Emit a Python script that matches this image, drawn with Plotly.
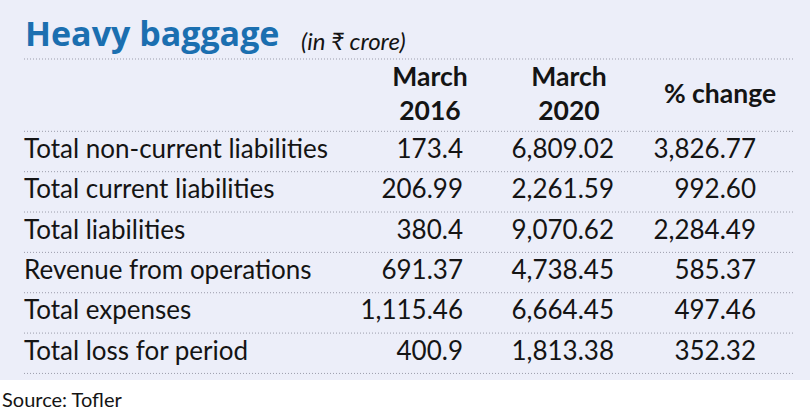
"""Heavy baggage: liabilities and losses table, March 2016 vs March 2020."""

import plotly.graph_objects as go

# ---- data ----
row_labels = [
    "Total non-current liabilities",
    "Total current liabilities",
    "Total liabilities",
    "Revenue from operations",
    "Total expenses",
    "Total loss for period",
]
march_2016 = ["173.4", "206.99", "380.4", "691.37", "1,115.46", "400.9"]
march_2020 = ["6,809.02", "2,261.59", "9,070.62", "4,738.45", "6,664.45", "1,813.38"]
pct_change = ["3,826.77", "992.60", "2,284.49", "585.37", "497.46", "352.32"]
col_headers = ["March<br>2016", "March<br>2020", "% change"]

title = "Heavy baggage"
subtitle = "(in ₹ crore)"
source = "Source: Tofler"

# ---- layout constants (pixels) ----
W, H = 810, 414
ROW0_PX = 151.5   # centre of first row
ROW_PX = 40.35    # row pitch
HEADER_LINE_PX = 59
LINE_X0, LINE_X1 = 24, 794
LABEL_X = 24
VALUE_RIGHT = [463, 614, 756]
HEADER_CX = [430, 569, 720]

BG = "#eceef9"
INK = "#141414"
BLUE = "#1b6fb0"
DOT = "#9b9dab"
BODY = "Lato, Roboto, sans-serif"
TITLE_FONT = "Open Sans, Lato, sans-serif"


def px_to_row(px):
    return (px - ROW0_PX) / ROW_PX


rows = list(range(len(row_labels)))
fig = go.Figure()

fig.add_trace(go.Scatter(
    x=[LABEL_X] * len(rows), y=rows, text=row_labels,
    mode="text", textposition="middle right",
    textfont=dict(family=BODY, size=26, color=INK),
    hoverinfo="skip",
))
for xr, col in zip(VALUE_RIGHT, [march_2016, march_2020, pct_change]):
    fig.add_trace(go.Scatter(
        x=[xr] * len(rows), y=rows, text=col,
        mode="text", textposition="middle left",
        textfont=dict(family=BODY, size=26, color=INK),
        hoverinfo="skip",
    ))

header_y = px_to_row((HEADER_LINE_PX + ROW0_PX - ROW_PX / 2) / 2 + 1)
fig.add_trace(go.Scatter(
    x=HEADER_CX, y=[header_y] * 3,
    text=[f"<b>{h}</b>" for h in col_headers],
    mode="text", textposition="middle center",
    textfont=dict(family=BODY, size=26.5, color=INK),
    hoverinfo="skip",
))

# panel background
fig.add_shape(type="rect", xref="paper", yref="y", x0=0, x1=1,
              y0=px_to_row(-5), y1=px_to_row(380),
              fillcolor=BG, line_width=0, layer="below")

# dotted separators
sep_y = [px_to_row(HEADER_LINE_PX)] + [r - 0.5 for r in rows] + [rows[-1] + 0.5]
for yy in sep_y:
    fig.add_shape(type="line", xref="x", yref="y",
                  x0=LINE_X0, x1=LINE_X1, y0=yy, y1=yy,
                  line=dict(color=DOT, width=1, dash="1px,2px"))

fig.add_annotation(
    text=f"<b>{title}</b>", xref="x", yref="y",
    x=LABEL_X - 1, y=px_to_row(33), xanchor="left", yanchor="middle",
    showarrow=False, font=dict(family=TITLE_FONT, size=34, color=BLUE),
)
fig.add_annotation(
    text=f"<i>{subtitle}</i>", xref="x", yref="y",
    x=299, y=px_to_row(40), xanchor="left", yanchor="middle",
    showarrow=False, font=dict(family=BODY, size=24, color=INK),
)
fig.add_annotation(
    text=source, xref="paper", yref="y",
    x=0, y=px_to_row(399), xanchor="left", yanchor="middle",
    showarrow=False, font=dict(family=BODY, size=20, color=INK),
)

fig.update_xaxes(range=[0, W], visible=False, fixedrange=True)
fig.update_yaxes(range=[px_to_row(H), px_to_row(0)], visible=False, fixedrange=True)
fig.update_layout(
    width=W, height=H,
    margin=dict(l=0, r=0, t=0, b=0),
    paper_bgcolor="white", plot_bgcolor="white",
    showlegend=False,
)

fig.write_html(
    "out.html",
    config={"displayModeBar": False, "staticPlot": True},
    post_script="document.body.style.margin='0';",
)
